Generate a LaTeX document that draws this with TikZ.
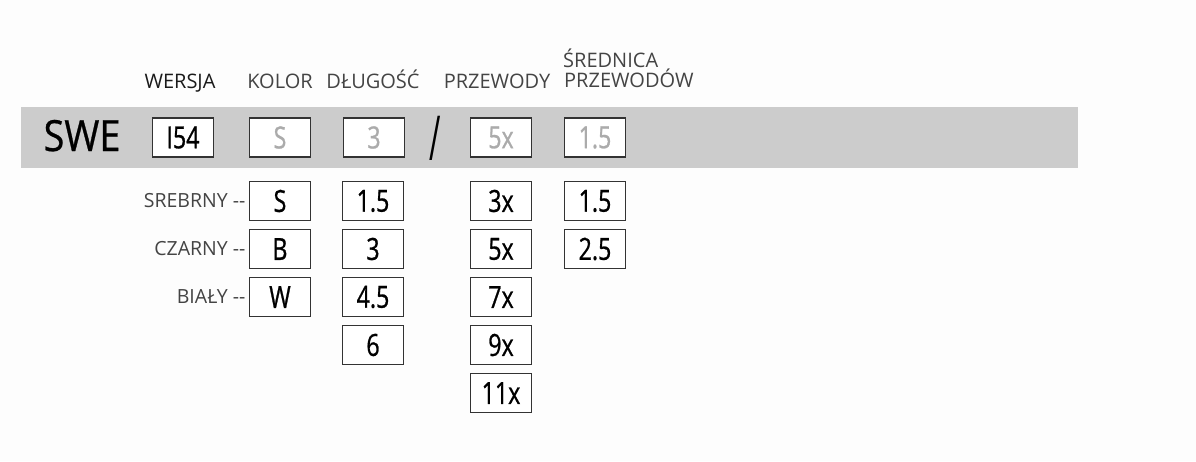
\documentclass[tikz,border=0pt]{standalone}
\usepackage{fontspec}
\setmainfont{Open Sans}
\newfontfamily\condfont{Open Sans}[FakeStretch=0.76,FakeBold=0.8]
\newfontfamily\swefont{Open Sans}[FakeStretch=0.88,FakeBold=0.6]
\usetikzlibrary{positioning}
\definecolor{tlo}{HTML}{FDFDFD}
\definecolor{pasek}{HTML}{CCCCCC}
\definecolor{ramka}{HTML}{333333}
\definecolor{opis}{HTML}{444444}
\definecolor{ciemny}{HTML}{1A1A1A}
\definecolor{jasny}{HTML}{ABABAB}

\begin{document}
\begin{tikzpicture}[x=1pt,y=-1pt,
                  every node/.style={inner sep=0pt},
                  kod/.style={rectangle,draw=ramka,line width=1.8pt,fill=white,minimum width=61pt,minimum height=39pt,
                              font=\condfont\fontsize{30.5}{30.5}\selectfont},
                  szary/.style={kod,text=jasny},
                  naglowek/.style={font=\fontsize{20}{24}\selectfont,text=opis,anchor=base},
                  opcja/.style={font=\fontsize{19.5}{20}\selectfont,text=opis},
                  node distance=7.2pt,
            ]
            \fill[tlo] (0,0) rectangle (1196,461);
            \fill[pasek] (21,107) rectangle (1078,168);

            % naglowki kolumn
            \node[naglowek,text=ciemny] (tw) at (180,88) {WERSJA};
            \node[naglowek] (tk) at (280,88) {KOLOR};
            \node[naglowek] (td) at (373,88) {DŁUGOŚĆ};
            \node[naglowek] (tp) at (497,88) {PRZEWODY};
            \node[naglowek,anchor=base west] (ts) at (564,87) {PRZEWODÓW};
            \node[naglowek,anchor=base west] (ts2) at (563,67) {ŚREDNICA};

            % pasek z kodem
            \node[font=\swefont\fontsize{43}{43}\selectfont,anchor=base,text=black] (swe) at (82,151) {SWE};
            \node[kod] (w) at (183,137.5) {I54};
            \node[szary] (k) at (280,137.5) {S};
            \node[szary] (d) at (374,137.5) {3};
            \node[font=\fontsize{62}{62}\selectfont,text=black] (kreska) at (435.5,138) {\scalebox{0.5}[1]{/}};
            \node[szary] (p) at (501,137.5) {5x};
            \node[szary] (s) at (595,137.5) {1.5};

            % kolory
            \node[kod] (k1) at (280,201) {S};
            \node[opcja] (o1) [left=3pt of k1] {SREBRNY -{}-};
            \node[kod] (k2) [below=of k1] {B};
            \node[opcja] (o2) [left=3pt of k2] {CZARNY -{}-};
            \node[kod] (k3) [below=of k2] {W};
            \node[opcja] (o3) [left=3pt of k3] {BIAŁY -{}-};

            % dlugosci
            \node[kod] (d1) at (373,201) {1.5};
            \node[kod] (d2) [below=of d1] {3};
            \node[kod] (d3) [below=of d2] {4.5};
            \node[kod] (d4) [below=of d3] {6};

            % przewody
            \node[kod] (p1) at (501,201) {3x};
            \node[kod] (p2) [below=of p1] {5x};
            \node[kod] (p3) [below=of p2] {7x};
            \node[kod] (p4) [below=of p3] {9x};
            \node[kod] (p5) [below=of p4] {11x};

            % srednice
            \node[kod] (s1) at (595,201) {1.5};
            \node[kod] (s2) [below=of s1] {2.5};
      \end{tikzpicture}
\end{document}
